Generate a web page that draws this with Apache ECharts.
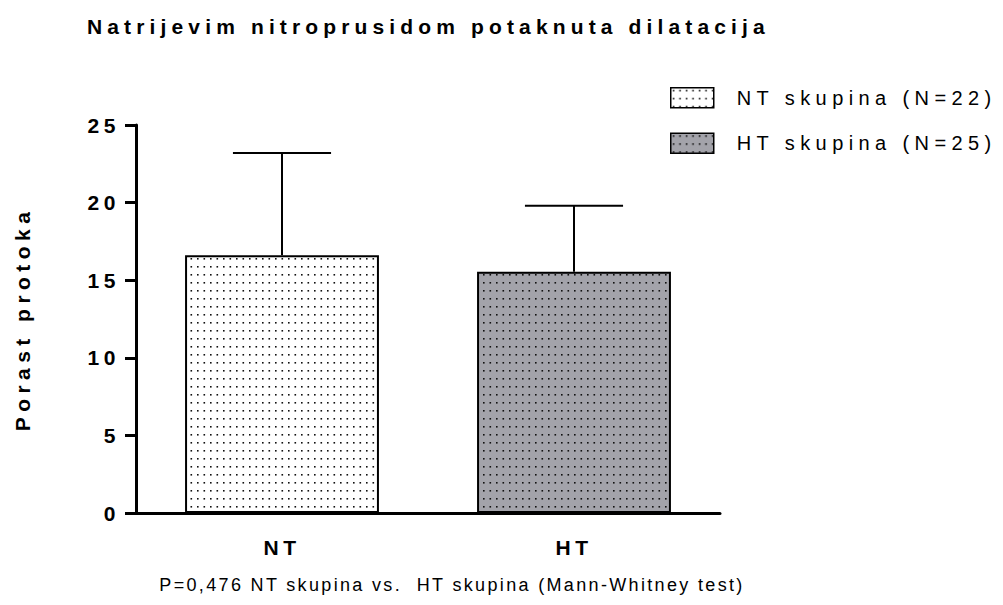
<!DOCTYPE html>
<html>
<head>
<meta charset="utf-8">
<script src="https://cdn.jsdelivr.net/npm/echarts@6/dist/echarts.min.js"></script>
<style>
  html, body { margin: 0; padding: 0; background: #fff; }
  #chart { width: 1003px; height: 605px; }
</style>
</head>
<body>
<div id="chart"></div>
<script>
  // podaci
  const categories = ['NT', 'HT']
  const groupNames = ['NT skupina (N=22)', 'HT skupina (N=25)']
  const means = [16.6, 15.55]
  const sd = [6.6, 4.25]
  const yTicks = [0, 5, 10, 15, 20, 25]
  const titleText = 'Natrijevim nitroprusidom potaknuta dilatacija'
  const noteText = 'P=0,476 NT skupina vs.  HT skupina (Mann-Whitney test)'
  const axisName = 'Porast protoka'

  const FONT = '"Liberation Sans", Arial, sans-serif'

  // tockasti uzorak za stupce
  function dots(bg) {
    const c = document.createElement('canvas')
    c.width = 13
    c.height = 16
    const ctx = c.getContext('2d')
    ctx.fillStyle = bg
    ctx.fillRect(0, 0, 13, 16)
    ctx.fillStyle = '#111'
    ctx.fillRect(2, 2, 1.6, 1.6)
    ctx.fillRect(8.5, 2, 1.6, 1.6)
    ctx.fillRect(2, 10, 1.6, 1.6)
    ctx.fillRect(8.5, 10, 1.6, 1.6)
    return { image: c, repeat: 'repeat', imageWidth: 13, imageHeight: 16 }
  }
  const fills = [dots('#ffffff'), dots('#a3a3aa')]

  const chart = echarts.init(document.getElementById('chart'), null, { renderer: 'svg' })

  const barSeries = groupNames.map((name, i) => ({
    name: name,
    type: 'bar',
    barWidth: '66.4%',
    barGap: '-100%',
    itemStyle: { color: fills[i], borderColor: '#000', borderWidth: 2 },
    data: categories.map((c, j) => (j === i ? means[j] : '-'))
  }))

  const option = {
    animation: false,
    title: {
      text: titleText,
      left: 87,
      top: 16,
      padding: 0,
      textStyle: { fontFamily: FONT, fontSize: 21, fontWeight: 'bold', color: '#000' }
    },
    legend: {
      data: groupNames,
      orient: 'vertical',
      left: 670,
      top: 87,
      padding: 0,
      icon: 'rect',
      itemWidth: 43,
      itemHeight: 20,
      itemGap: 24,
      itemStyle: { borderColor: '#000', borderWidth: 1.5 },
      textStyle: { fontFamily: FONT, fontSize: 20, color: '#000', padding: [0, 0, 0, 18] }
    },
    grid: { left: 136, right: 283, top: 125, bottom: 92 },
    xAxis: {
      type: 'category',
      data: categories,
      axisLine: { lineStyle: { color: '#000', width: 3 } },
      axisTick: { alignWithLabel: true, length: 10, lineStyle: { color: '#000', width: 3 } },
      axisLabel: { margin: 24, fontFamily: FONT, fontSize: 21, fontWeight: 'bold', color: '#000' }
    },
    yAxis: {
      type: 'value',
      min: yTicks[0],
      max: yTicks[yTicks.length - 1],
      interval: yTicks[1] - yTicks[0],
      name: axisName,
      nameLocation: 'middle',
      nameRotate: 90,
      nameGap: 103,
      nameTextStyle: { fontFamily: FONT, fontSize: 21, fontWeight: 'bold', color: '#000' },
      axisLine: { show: true, lineStyle: { color: '#000', width: 3 } },
      axisTick: { show: true, length: 11, lineStyle: { color: '#000', width: 3 } },
      axisLabel: { margin: 16, fontFamily: FONT, fontSize: 21, fontWeight: 'bold', color: '#000' },
      splitLine: { show: false }
    },
    graphic: [{
      type: 'text',
      x: 452,
      y: 585,
      style: {
        text: noteText,
        font: '18px ' + FONT,
        fill: '#000',
        textAlign: 'center',
        textVerticalAlign: 'middle'
      }
    }],
    series: barSeries.concat([{
      // error bars (samo prema gore)
      type: 'custom',
      z: 10,
      data: categories.map((c, i) => [i, means[i], means[i] + sd[i]]),
      renderItem: function (params, api) {
        const base = api.coord([api.value(0), api.value(1)])
        const top = api.coord([api.value(0), api.value(2)])
        const half = api.size([1, 0])[0] * 0.168
        return {
          type: 'group',
          children: [
            { type: 'line', shape: { x1: base[0], y1: base[1], x2: top[0], y2: top[1] }, style: { stroke: '#000', lineWidth: 2 } },
            { type: 'line', shape: { x1: top[0] - half, y1: top[1], x2: top[0] + half, y2: top[1] }, style: { stroke: '#000', lineWidth: 2 } }
          ]
        }
      }
    }])
  }
  chart.setOption(option)

  // razmak izmedju slova kao na originalu
  function spacing(txt) {
    if (txt.indexOf('Natrij') === 0) return 0.245
    if (txt.indexOf('P=') === 0) return 0.13
    if (txt.indexOf('skupina (N') >= 0) return 0.27
    if (txt === axisName) return 0.26
    return 0.22
  }
  function spread() {
    document.querySelectorAll('#chart text').forEach(t => {
      const fs = parseFloat(getComputedStyle(t).fontSize) || 19
      t.setAttribute('letter-spacing', (spacing(t.textContent) * fs).toFixed(2))
    })
  }
  chart.on('finished', spread)
  spread()
</script>
</body>
</html>
